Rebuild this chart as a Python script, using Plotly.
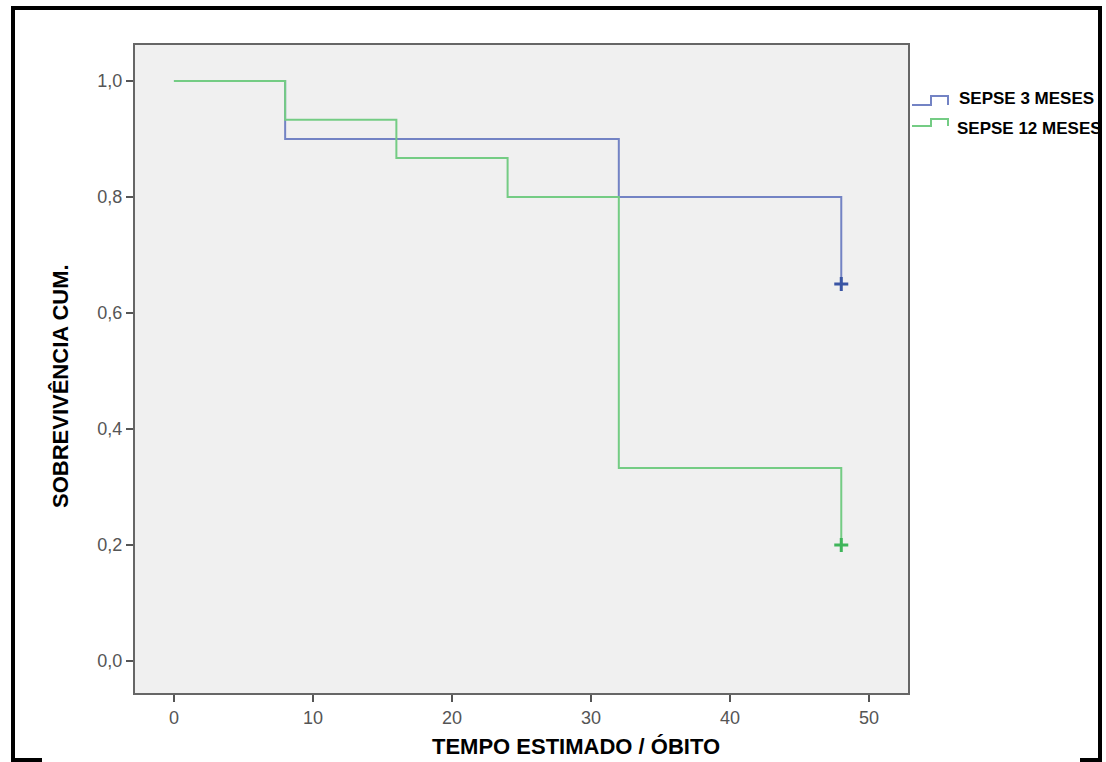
import plotly.graph_objects as go

# Data (Kaplan-Meier steps)
time_3m = [0, 8, 32, 48]
surv_3m = [1.0, 0.9, 0.8, 0.65]
time_12m = [0, 8, 16, 24, 32, 48]
surv_12m = [1.0, 0.933, 0.867, 0.8, 0.333, 0.2]
cens_3m_t, cens_3m_s = [48], [0.65]
cens_12m_t, cens_12m_s = [48], [0.2]

x_ticks = [0, 10, 20, 30, 40, 50]
x_ticklabels = ["0", "10", "20", "30", "40", "50"]
y_ticks = [0.0, 0.2, 0.4, 0.6, 0.8, 1.0]
y_ticklabels = ["0,0", "0,2", "0,4", "0,6", "0,8", "1,0"]

W, H = 1106, 762
L, R, T, B = 135, 908, 45, 693

def px(x):
    return (x - L) / (R - L)

def py(y):
    return (B - y) / (B - T)

BLUE = "#7383c4"
BLUE_M = "#3a55a4"
GREEN = "#74cc84"
GREEN_M = "#3fb55a"

fig = go.Figure()
fig.add_trace(go.Scatter(x=time_3m, y=surv_3m, mode="lines", line=dict(shape="hv", color=BLUE, width=2),
                         name="SEPSE 3 MESES", showlegend=False))
fig.add_trace(go.Scatter(x=time_12m, y=surv_12m, mode="lines", line=dict(shape="hv", color=GREEN, width=2),
                         name="SEPSE 12 MESES", showlegend=False))
fig.add_trace(go.Scatter(x=cens_3m_t, y=cens_3m_s, mode="markers",
                         marker=dict(symbol="cross-thin", size=10, line=dict(color=BLUE_M, width=3)),
                         showlegend=False))
fig.add_trace(go.Scatter(x=cens_12m_t, y=cens_12m_s, mode="markers",
                         marker=dict(symbol="cross-thin", size=10, line=dict(color=GREEN_M, width=3)),
                         showlegend=False))

tickfont = dict(family="Liberation Sans, Arial", size=18, color="#555555")
fig.update_xaxes(range=[-2.8, 52.8], tickvals=x_ticks, ticktext=x_ticklabels, ticks="outside",
                 ticklen=7, tickwidth=2, tickcolor="#555555", showgrid=False, zeroline=False,
                 showline=True, linecolor="#666666", linewidth=2, mirror=True, tickfont=tickfont)
fig.update_yaxes(range=[-0.055, 1.062], tickvals=y_ticks, ticktext=y_ticklabels, ticks="outside",
                 ticklen=7, tickwidth=2, tickcolor="#555555", showgrid=False, zeroline=False,
                 showline=True, linecolor="#666666", linewidth=2, mirror=True, tickfont=tickfont)

shapes = []
# outer frame
frame = (f"M {px(42)},{py(760)} L {px(13)},{py(760)} L {px(13)},{py(8)} "
         f"L {px(1100)},{py(8)} L {px(1100)},{py(760)} L {px(1080)},{py(760)}")
shapes.append(dict(type="path", xref="paper", yref="paper", path=frame,
                   line=dict(color="black", width=4)))
# legend icons
for (ylow, yhigh, col) in [(105, 96, BLUE), (126, 119, GREEN)]:
    p = (f"M {px(912)},{py(ylow)} L {px(931)},{py(ylow)} L {px(931)},{py(yhigh)} "
         f"L {px(948)},{py(yhigh)} L {px(948)},{py(ylow)}")
    shapes.append(dict(type="path", xref="paper", yref="paper", path=p, line=dict(color=col, width=2)))

bold = dict(family="Liberation Sans, Arial", size=17, color="black")
annotations = [
    dict(x=px(957), y=py(98), xref="paper", yref="paper", text="<b>SEPSE 3 MESES</b>",
         showarrow=False, xanchor="left", yanchor="middle", font=bold),
    dict(x=px(955), y=py(128), xref="paper", yref="paper", text="<b>SEPSE 12 MESES</b>",
         showarrow=False, xanchor="left", yanchor="middle", font=bold),
    dict(x=px(576), y=py(746), xref="paper", yref="paper", text="<b>TEMPO ESTIMADO / ÓBITO</b>",
         showarrow=False, xanchor="center", yanchor="middle",
         font=dict(family="Liberation Sans, Arial", size=22, color="black")),
    dict(x=px(60), y=py(386), xref="paper", yref="paper", text="<b>SOBREVIVÊNCIA CUM.</b>",
         showarrow=False, xanchor="center", yanchor="middle", textangle=-90,
         font=dict(family="Liberation Sans, Arial", size=22, color="black")),
]

fig.update_layout(width=W, height=H, margin=dict(l=L, r=W - R, t=T, b=H - B),
                  paper_bgcolor="white", plot_bgcolor="#f0f0f0",
                  shapes=shapes, annotations=annotations, showlegend=False)

fig.write_html("out.html")
